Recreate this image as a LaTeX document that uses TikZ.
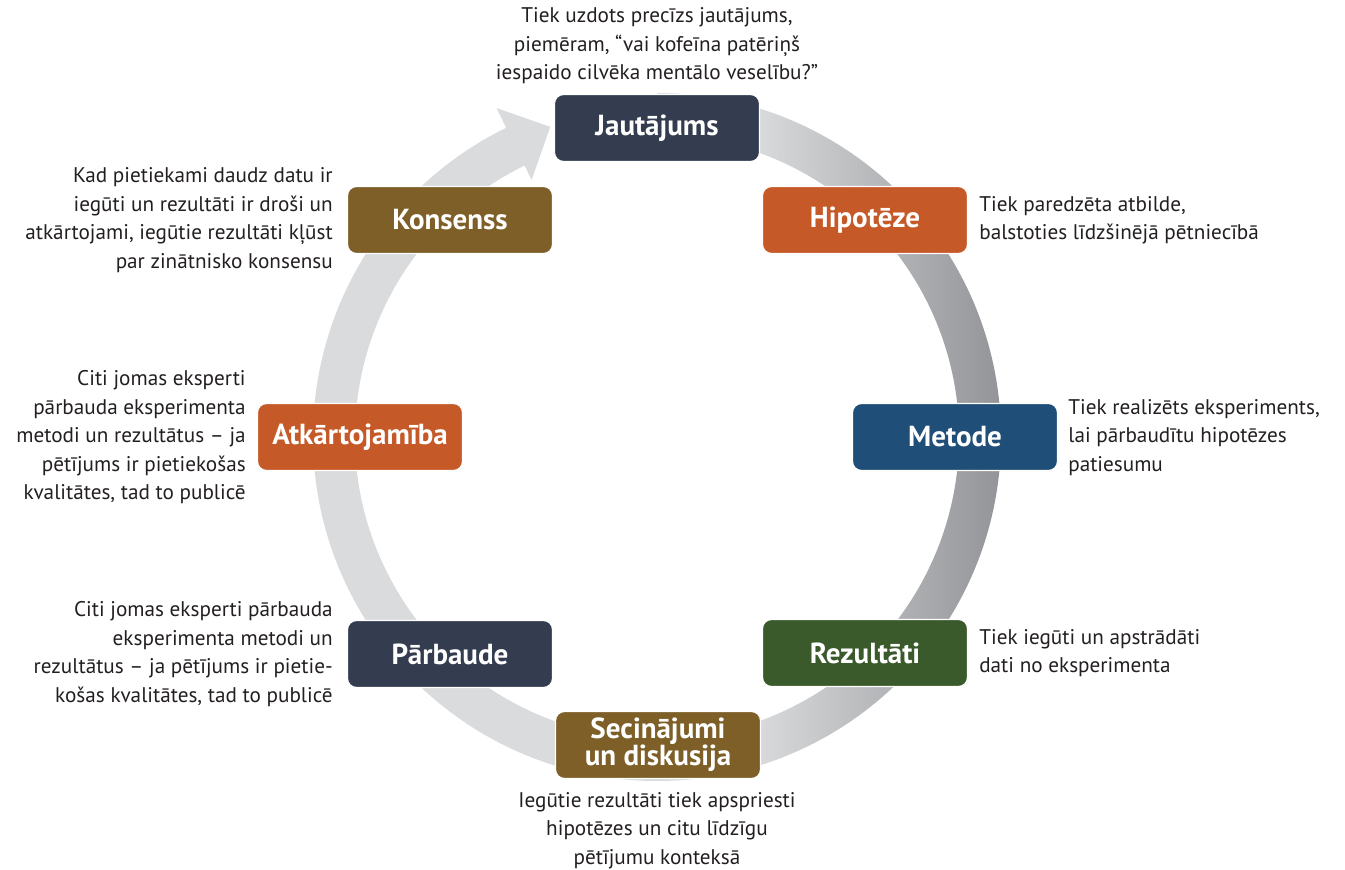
\documentclass[tikz,border=0pt]{standalone}
\usepackage{fontspec}
\setmainfont{PT Sans}
\usetikzlibrary{calc}
\definecolor{cdark}{HTML}{333D4F}
\definecolor{corange}{HTML}{C55A28}
\definecolor{cblue}{HTML}{1F4E79}
\definecolor{cgreen}{HTML}{3B5A2B}
\definecolor{cbrown}{HTML}{7E5F28}
\definecolor{ringlight}{HTML}{DADBDD}
\definecolor{ringdark}{HTML}{939497}
\definecolor{txt}{HTML}{231F20}
\pgfdeclarehorizontalshading{ringshade}{100bp}{color(0bp)=(ringlight); color(57bp)=(ringlight); color(75bp)=(ringdark); color(100bp)=(ringdark)}
\tikzset{
  stage/.style={rounded corners=9pt, minimum width=205pt, minimum height=67pt,
    draw=white, line width=1.2pt, text=white,
    font=\fontsize{29}{27}\selectfont\bfseries, align=center, inner sep=0pt},
  note/.style={font=\fontsize{21.2}{28.5}\selectfont, inner sep=0pt, text=txt},
}
\begin{document}
\begin{tikzpicture}[x=1pt,y=1pt]
\useasboundingbox (0,0) rectangle (1345,870);
\coordinate (c) at (657,433);
% ring arrow
\shade[shading=ringshade]
  ($(c)+(90:344)$) arc[start angle=90, end angle=-244, radius=344]
  -- ($(c)+(-244:366)$) -- ($(c)+(-251:328)$) -- ($(c)+(-244:286)$)
  -- ($(c)+(-244:302)$) arc[start angle=-244, end angle=90, radius=302] -- cycle;
% stages
\node[stage, fill=cdark]   (jaut) at (657,742) {Jautājums};
\node[stage, fill=corange] (hip)  at (865,650) {Hipotēze};
\node[stage, fill=cblue]   (met)  at (955,433) {Metode};
\node[stage, fill=cgreen]  (rez)  at (865,217) {Rezultāti};
\node[stage, fill=cbrown]  (sec)  at (658,125) {Secinājumi\\un diskusija};
\node[stage, fill=cdark]   (par)  at (450,216) {Pārbaude};
\node[stage, fill=corange] (atk)  at (360,433) {Atkārtojamība};
\node[stage, fill=cbrown]  (kon)  at (450,650) {Konsenss};
% notes
\node[note, align=center] (tjaut) at (657,824.5)
  {\strut Tiek uzdots precīzs jautājums,\\piemēram, “vai kofeīna patēriņš\\iespaido cilvēka mentālo veselību?”\strut};
\node[note, align=left, anchor=west] (thip) at ($(hip.east)+(11,0)$)
  {\strut Tiek paredzēta atbilde,\\balstoties līdzšinējā pētniecībā\strut};
\node[note, align=left, anchor=west] (tmet) at ($(met.east)+(10,0)$)
  {\strut Tiek realizēts eksperiments,\\lai pārbaudītu hipotēzes\\patiesumu\strut};
\node[note, align=left, anchor=west] (trez) at ($(rez.east)+(11,0)$)
  {\strut Tiek iegūti un apstrādāti\\dati no eksperimenta\strut};
\node[note, align=center] (tsec) at (657,40)
  {\strut Iegūtie rezultāti tiek apspriesti\\hipotēzes un citu līdzīgu\\pētījumu konteksā\strut};
\node[note, align=right, anchor=east] (tpar) at ($(par.west)+(-14,0)$)
  {\strut Citi jomas eksperti pārbauda\\eksperimenta metodi un\\rezultātus – ja pētījums ir pietie-\\košas kvalitātes, tad to publicē\strut};
\node[note, align=right, anchor=east] (tatk) at ($(atk.west)+(-11,0)$)
  {\strut Citi jomas eksperti\\pārbauda eksperimenta\\metodi un rezultātus – ja\\pētījums ir pietiekošas\\kvalitātes, tad to publicē\strut};
\node[note, align=right, anchor=east] (tkon) at ($(kon.west)+(-14,0)$)
  {\strut Kad pietiekami daudz datu ir\\iegūti un rezultāti ir droši un\\atkārtojami, iegūtie rezultāti kļūst\\par zinātnisko konsensu\strut};
\end{tikzpicture}
\end{document}
